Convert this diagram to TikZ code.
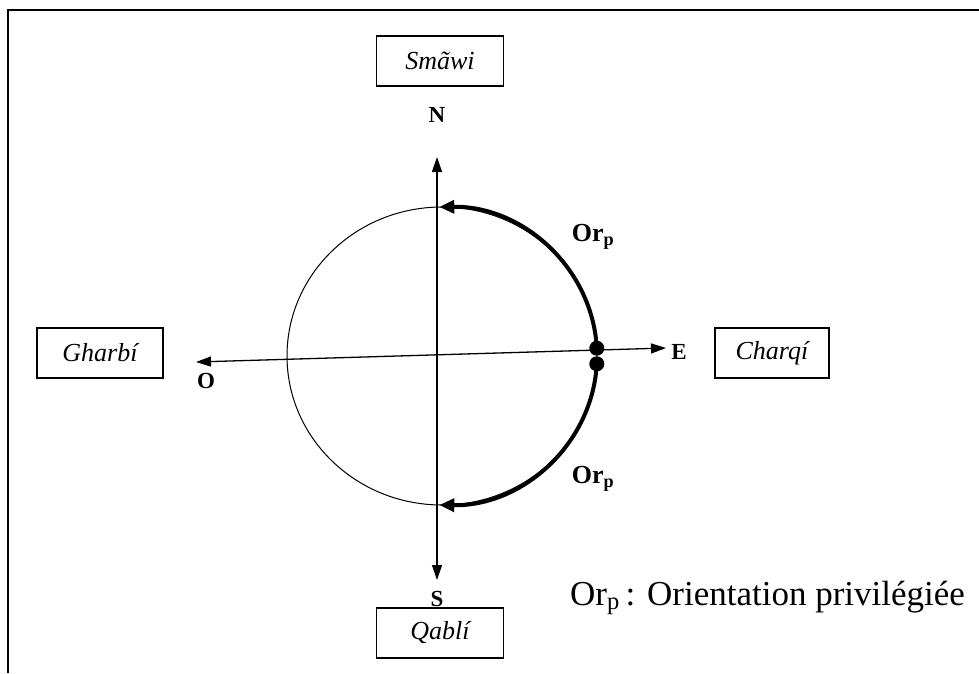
\documentclass[tikz,border=0pt]{standalone}
\usepackage{fontspec}
\setmainfont{Liberation Serif}
\usetikzlibrary{arrows.meta,positioning,calc}
\tikzset{
 dirbox/.style={draw,line width=1.2pt,inner sep=0pt,minimum height=50pt,font=\fontsize{26}{28}\selectfont\itshape},
 cardinal/.style={inner sep=0pt,font=\fontsize{23}{25}\selectfont\bfseries},
 orlabel/.style={inner sep=0pt,font=\fontsize{26}{28}\selectfont\bfseries},
 axe/.style={line width=1.3pt,{Triangle[length=15pt,width=10pt]}-{Triangle[length=15pt,width=10pt]}},
 orarc/.style={line width=4pt,-{Triangle[length=15pt,width=13pt]}},
}
\newcommand{\orp}{Or\textsubscript{p}}

\begin{document}
\begin{tikzpicture}[x=1pt,y=-1pt]
\useasboundingbox (0,0) rectangle (979,673);
% frame
\draw[line width=1.5pt] (979,10) -- (8,10) -- (8,673);
% circle and axes
\coordinate (c) at (442,356);
\draw[line width=1pt] (c) ellipse[x radius=155,y radius=149];
\coordinate (ntip) at (437,157);
\coordinate (stip) at (437,580);
\coordinate (otip) at (196,362);
\coordinate (etip) at (666,348);
\draw[axe] (ntip) -- (stip);
\draw[axe] (otip) -- (etip);
% preferred orientation
\coordinate (pa) at ($(c)+(-3:155 and 149)$);
\coordinate (pb) at ($(c)+(3:155 and 149)$);
\draw[orarc] (pa) arc[start angle=-3,end angle=-91,x radius=155,y radius=149];
\draw[orarc] (pb) arc[start angle=3,end angle=91,x radius=155,y radius=149];
\foreach \p in {pa,pb} {\fill (\p) circle (7.5);}
\node[orlabel] (or1) at (593,237) {\orp};
\node[orlabel] (or2) at (593,479) {\orp};
% cardinal points
\node[cardinal] (n) at (437,115) {N};
\node[cardinal] (s) at (437,599) {S};
\node[cardinal] (o) at (206,381) {O};
\node[cardinal] (e) at (679,352) {E};
\node[dirbox,minimum width=127pt] (smawi) at (440,61) {Smãwi};
\node[dirbox,minimum width=126pt] (gharbi) at (100,353) {Gharbí};
\node[dirbox,minimum width=114pt] (charqi) at (772,353) {Charqí};
\node[dirbox,minimum width=127pt] (qabli) at (440,633) {Qablí};
\node[anchor=west,inner sep=0pt,font=\fontsize{35}{37}\selectfont] (leg) at (570,598) {\orp\,: Orientation privilégiée};
\end{tikzpicture}
\end{document}
